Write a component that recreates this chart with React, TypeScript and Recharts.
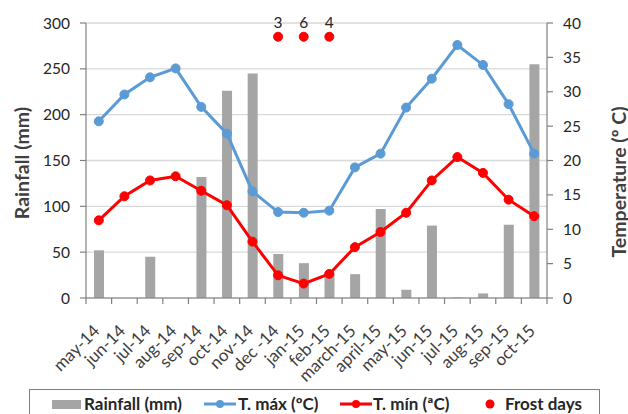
import {
  ComposedChart,
  Bar,
  Line,
  XAxis,
  YAxis,
  CartesianGrid,
  Legend,
  LabelList,
} from 'recharts';

const FONT = 'Lato, "Open Sans", sans-serif';

const months = [
  'may-14', 'jun-14', 'jul-14', 'aug-14', 'sep-14', 'oct-14', 'nov-14', 'dec -14', 'jan-15',
  'feb-15', 'march-15', 'april-15', 'may-15', 'jun-15', 'jul-15', 'aug-15', 'sep-15', 'oct-15',
];

// monthly rainfall (mm)
const rainfall = [52, 0, 45, 0, 132, 226, 245, 48, 38, 28, 26, 97, 9, 79, 0.5, 5, 80, 255];

// mean max / min temperature (ºC)
const tMax = [25.7, 29.6, 32.1, 33.4, 27.8, 23.9, 15.5, 12.5, 12.4, 12.7, 19.0, 21.0, 27.7, 31.9, 36.8, 33.9, 28.2, 21.0];
const tMin = [11.3, 14.8, 17.1, 17.7, 15.6, 13.5, 8.2, 3.3, 2.1, 3.5, 7.4, 9.6, 12.4, 17.1, 20.5, 18.2, 14.3, 11.9];

// frost days per month (only winter months have any)
const frostDays: (number | null)[] = [null, null, null, null, null, null, null, 3, 6, 4, null, null, null, null, null, null, null, null];
// frost markers sit in a row near the top of the temperature scale
const frostRowLevel = 38;

const rainTicks = [0, 50, 100, 150, 200, 250, 300];
const tempTicks = [0, 5, 10, 15, 20, 25, 30, 35, 40];

const data = months.map((m, i) => ({
  month: m,
  rain: rainfall[i],
  tmax: tMax[i],
  tmin: tMin[i],
  frost: frostDays[i],
  frostRow: frostDays[i] == null ? null : frostRowLevel,
}));

const AXIS = '#808080';
const GREY = '#a5a5a5';
const BLUE = '#5b9bd5';
const RED = '#ff0000';
const TEXT = '#262626';

// month label rotated 45º plus a tick mark on the band boundary (left side)
const MonthTick = (props: any) => {
  const { x, y, payload, index, visibleTicksCount } = props;
  const half = payload?.offset ?? 12.8;
  const last = index === visibleTicksCount - 1;
  const ax = x + 2;
  const ay = y + 26;
  return (
    <g>
      <line x1={x - half} y1={y - 8} x2={x - half} y2={y - 2} stroke={AXIS} strokeWidth={1.2} />
      {last && <line x1={x + half} y1={y - 8} x2={x + half} y2={y - 2} stroke={AXIS} strokeWidth={1.2} />}
      <text
        x={ax}
        y={ay}
        transform={`rotate(-45, ${ax}, ${ay})`}
        textAnchor="end"
        fontSize={17}
        fontFamily={FONT}
        fill="#404040"
      >
        {payload.value}
      </text>
    </g>
  );
};

// rotated axis title at a fixed spot beside the axis
const axisTitle = (text: string, cx: number, cy: number) => () => (
  <text
    x={cx}
    y={cy}
    transform={`rotate(-90, ${cx}, ${cy})`}
    textAnchor="middle"
    dominantBaseline="central"
    fontSize={19.5}
    fontWeight={700}
    fontFamily={FONT}
    fill="#404040"
  >
    {text}
  </text>
);

const LegendBox = () => (
  <div
    style={{
      width: 571,
      height: 34,
      border: '1px solid #7f7f7f',
      boxSizing: 'border-box',
      position: 'relative',
      fontFamily: FONT,
      fontWeight: 700,
      fontSize: 17,
      lineHeight: '20px',
      color: TEXT,
    }}
  >
    <div style={{ position: 'absolute', left: 22, top: 10, width: 29, height: 9, background: GREY }} />
    <span style={{ position: 'absolute', left: 54, top: 4 }}>Rainfall (mm)</span>
    <svg style={{ position: 'absolute', left: 174, top: 8 }} width={32} height={12}>
      <line x1={0} y1={6} x2={32} y2={6} stroke={BLUE} strokeWidth={3} />
      <circle cx={16} cy={6} r={4} fill={BLUE} />
    </svg>
    <span style={{ position: 'absolute', left: 208, top: 4 }}>T. máx (ºC)</span>
    <svg style={{ position: 'absolute', left: 310, top: 8 }} width={32} height={12}>
      <line x1={0} y1={6} x2={32} y2={6} stroke={RED} strokeWidth={3} />
      <circle cx={16} cy={6} r={4} fill={RED} />
    </svg>
    <span style={{ position: 'absolute', left: 343, top: 4 }}>T. mín (ªC)</span>
    <svg style={{ position: 'absolute', left: 454, top: 8 }} width={12} height={12}>
      <circle cx={6} cy={6} r={4.5} fill={RED} />
    </svg>
    <span style={{ position: 'absolute', left: 475, top: 4 }}>Frost days</span>
  </div>
);

export default function App() {
  return (
    <div style={{ position: 'absolute', left: 0, top: 0, background: '#fff' }}>
      <ComposedChart
        width={628}
        height={414}
        data={data}
        margin={{ top: 23, right: 0, bottom: 0, left: 0 }}
      >
        <CartesianGrid vertical={false} stroke="#d9d9d9" strokeWidth={1.3} yAxisId="rain" />
        <XAxis
          dataKey="month"
          height={116}
          interval={0}
          tickLine={false}
          axisLine={{ stroke: AXIS, strokeWidth: 1.2 }}
          tick={<MonthTick />}
        />
        <YAxis
          yAxisId="rain"
          orientation="left"
          width={86}
          domain={[0, 300]}
          ticks={rainTicks}
          tickSize={6}
          tickMargin={10}
          axisLine={{ stroke: AXIS, strokeWidth: 1.2 }}
          tickLine={{ stroke: AXIS, strokeWidth: 1.2 }}
          tick={{ fontSize: 15.5, fontFamily: FONT, fill: TEXT }}
          label={axisTitle('Rainfall (mm)', 21, 163)}
        />
        <YAxis
          yAxisId="temp"
          orientation="right"
          width={81}
          domain={[0, 40]}
          ticks={tempTicks}
          tickSize={6}
          tickMargin={10}
          axisLine={{ stroke: AXIS, strokeWidth: 1.2 }}
          tickLine={{ stroke: AXIS, strokeWidth: 1.2 }}
          tick={{ fontSize: 15.5, fontFamily: FONT, fill: TEXT }}
          label={axisTitle('Temperature (º C)', 618, 182)}
        />
        <Bar yAxisId="rain" dataKey="rain" name="Rainfall (mm)" fill={GREY} barSize={10} isAnimationActive={false} />
        <Line
          yAxisId="temp"
          dataKey="tmax"
          name="T. máx (ºC)"
          stroke={BLUE}
          strokeWidth={3}
          dot={{ r: 4.5, fill: BLUE, stroke: BLUE, strokeWidth: 1 }}
          isAnimationActive={false}
        />
        <Line
          yAxisId="temp"
          dataKey="tmin"
          name="T. mín (ªC)"
          stroke={RED}
          strokeWidth={3}
          dot={{ r: 4.5, fill: RED, stroke: RED, strokeWidth: 1 }}
          isAnimationActive={false}
        />
        <Line
          yAxisId="temp"
          dataKey="frostRow"
          name="Frost days"
          stroke="none"
          strokeWidth={0}
          dot={{ r: 4.5, fill: RED, stroke: RED, strokeWidth: 1 }}
          isAnimationActive={false}
        >
          <LabelList dataKey="frost" position="top" offset={9} fontSize={15.5} fontFamily={FONT} fill={TEXT} />
        </Line>
        <Legend
          layout="horizontal"
          verticalAlign="middle"
          align="center"
          wrapperStyle={{ left: 29, top: 389, width: 571 }}
          content={() => <LegendBox />}
        />
      </ComposedChart>
    </div>
  );
}
